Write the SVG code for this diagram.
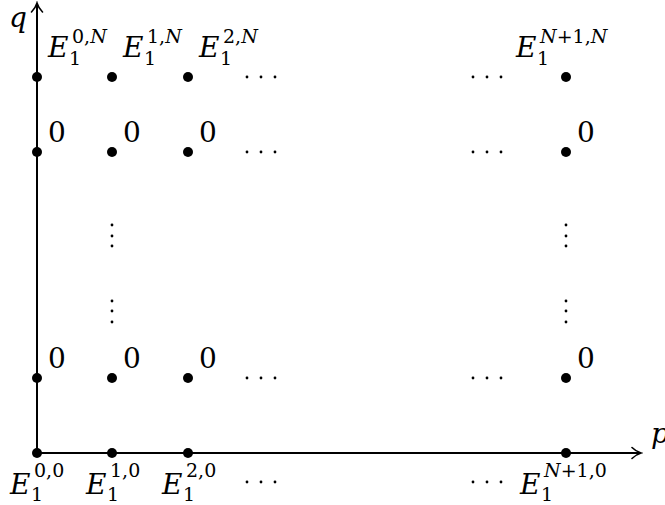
<svg xmlns="http://www.w3.org/2000/svg" width="665" height="505" viewBox="0 0 665 505">
<style>
.ax{stroke:#000;stroke-width:2;fill:none}
.dot{fill:#000}
.sd{fill:#000}
text{font-family:"DejaVu Serif","Liberation Serif",serif;fill:#000}
.big{font-size:28px}
.sm{font-size:19px}
.it{font-style:italic}
</style>
<defs>
<marker id="arr" markerWidth="12" markerHeight="14" refX="9" refY="7" orient="auto" markerUnits="userSpaceOnUse">
<path d="M1,1.5 Q5,5.5 10,7 Q5,8.5 1,12.5" fill="none" stroke="#000" stroke-width="1.6" stroke-linecap="round"/>
</marker>
</defs>
<g id="connectors">
<line class="ax" x1="37" y1="453" x2="640" y2="453" marker-end="url(#arr)"/>
<line class="ax" x1="37" y1="453" x2="37" y2="4" marker-end="url(#arr)"/>
</g>
<g id="axis-labels">
<text class="big it" x="9" y="27">q</text>
<text class="big it" x="651" y="443">p</text>
</g>
<g id="nodes-top">
<g id="n0N"><circle class="dot" cx="37" cy="77" r="5"/>
<text class="big it" x="48" y="57">E</text><text class="sm" x="69" y="65">1</text><text class="sm" x="72" y="43">0,<tspan class="it">N</tspan></text></g>
<g id="n1N"><circle class="dot" cx="112" cy="77" r="5"/>
<text class="big it" x="123" y="57">E</text><text class="sm" x="144" y="65">1</text><text class="sm" x="147" y="43">1,<tspan class="it">N</tspan></text></g>
<g id="n2N"><circle class="dot" cx="188" cy="77" r="5"/>
<text class="big it" x="199" y="57">E</text><text class="sm" x="220" y="65">1</text><text class="sm" x="223" y="43">2,<tspan class="it">N</tspan></text></g>
<g id="nN1N"><circle class="dot" cx="566" cy="77" r="5"/>
<text class="big it" x="516" y="57">E</text><text class="sm" x="537" y="65">1</text><text class="sm" x="540" y="43"><tspan class="it">N</tspan>+1,<tspan class="it">N</tspan></text></g>
</g>
<g id="row-2">
<g id="r2c0"><circle class="dot" cx="37" cy="152" r="5"/><text class="big" x="48" y="142">0</text></g>
<g id="r2c1"><circle class="dot" cx="112" cy="152" r="5"/><text class="big" x="123" y="142">0</text></g>
<g id="r2c2"><circle class="dot" cx="188" cy="152" r="5"/><text class="big" x="199" y="142">0</text></g>
<g id="r2c3"><circle class="dot" cx="566" cy="152" r="5"/><text class="big" x="577" y="142">0</text></g>
</g>
<g id="row-3">
<g id="r3c0"><circle class="dot" cx="37" cy="378" r="5"/><text class="big" x="48" y="368">0</text></g>
<g id="r3c1"><circle class="dot" cx="112" cy="378" r="5"/><text class="big" x="123" y="368">0</text></g>
<g id="r3c2"><circle class="dot" cx="188" cy="378" r="5"/><text class="big" x="199" y="368">0</text></g>
<g id="r3c3"><circle class="dot" cx="566" cy="378" r="5"/><text class="big" x="577" y="368">0</text></g>
</g>
<g id="nodes-bottom">
<g id="n00"><circle class="dot" cx="37" cy="453" r="5"/>
<text class="big it" x="10" y="494">E</text><text class="sm" x="31" y="501">1</text><text class="sm" x="34" y="477">0,0</text></g>
<g id="n10"><circle class="dot" cx="112" cy="453" r="5"/>
<text class="big it" x="86" y="494">E</text><text class="sm" x="107" y="501">1</text><text class="sm" x="110" y="477">1,0</text></g>
<g id="n20"><circle class="dot" cx="188" cy="453" r="5"/>
<text class="big it" x="162" y="494">E</text><text class="sm" x="183" y="501">1</text><text class="sm" x="186" y="477">2,0</text></g>
<g id="nN10"><circle class="dot" cx="566" cy="453" r="5"/>
<text class="big it" x="520" y="494">E</text><text class="sm" x="541" y="501">1</text><text class="sm" x="544" y="477"><tspan class="it">N</tspan>+1,0</text></g>
</g>
<g id="ellipses">
<g id="h1"><circle class="sd" cx="247" cy="77" r="1.4"/><circle class="sd" cx="261" cy="77" r="1.4"/><circle class="sd" cx="275" cy="77" r="1.4"/>
<circle class="sd" cx="473" cy="77" r="1.4"/><circle class="sd" cx="487" cy="77" r="1.4"/><circle class="sd" cx="501" cy="77" r="1.4"/></g>
<g id="h2"><circle class="sd" cx="247" cy="152" r="1.4"/><circle class="sd" cx="261" cy="152" r="1.4"/><circle class="sd" cx="275" cy="152" r="1.4"/>
<circle class="sd" cx="473" cy="152" r="1.4"/><circle class="sd" cx="487" cy="152" r="1.4"/><circle class="sd" cx="501" cy="152" r="1.4"/></g>
<g id="h3"><circle class="sd" cx="247" cy="378" r="1.4"/><circle class="sd" cx="261" cy="378" r="1.4"/><circle class="sd" cx="275" cy="378" r="1.4"/>
<circle class="sd" cx="473" cy="378" r="1.4"/><circle class="sd" cx="487" cy="378" r="1.4"/><circle class="sd" cx="501" cy="378" r="1.4"/></g>
<g id="h4"><circle class="sd" cx="247" cy="482" r="1.4"/><circle class="sd" cx="261" cy="482" r="1.4"/><circle class="sd" cx="275" cy="482" r="1.4"/>
<circle class="sd" cx="473" cy="482" r="1.4"/><circle class="sd" cx="487" cy="482" r="1.4"/><circle class="sd" cx="501" cy="482" r="1.4"/></g>
<g id="v1"><circle class="sd" cx="112" cy="225" r="1.4"/><circle class="sd" cx="112" cy="236" r="1.4"/><circle class="sd" cx="112" cy="246" r="1.4"/>
<circle class="sd" cx="112" cy="301" r="1.4"/><circle class="sd" cx="112" cy="311" r="1.4"/><circle class="sd" cx="112" cy="322" r="1.4"/></g>
<g id="v2"><circle class="sd" cx="566" cy="225" r="1.4"/><circle class="sd" cx="566" cy="236" r="1.4"/><circle class="sd" cx="566" cy="246" r="1.4"/>
<circle class="sd" cx="566" cy="301" r="1.4"/><circle class="sd" cx="566" cy="311" r="1.4"/><circle class="sd" cx="566" cy="322" r="1.4"/></g>
</g>
</svg>
